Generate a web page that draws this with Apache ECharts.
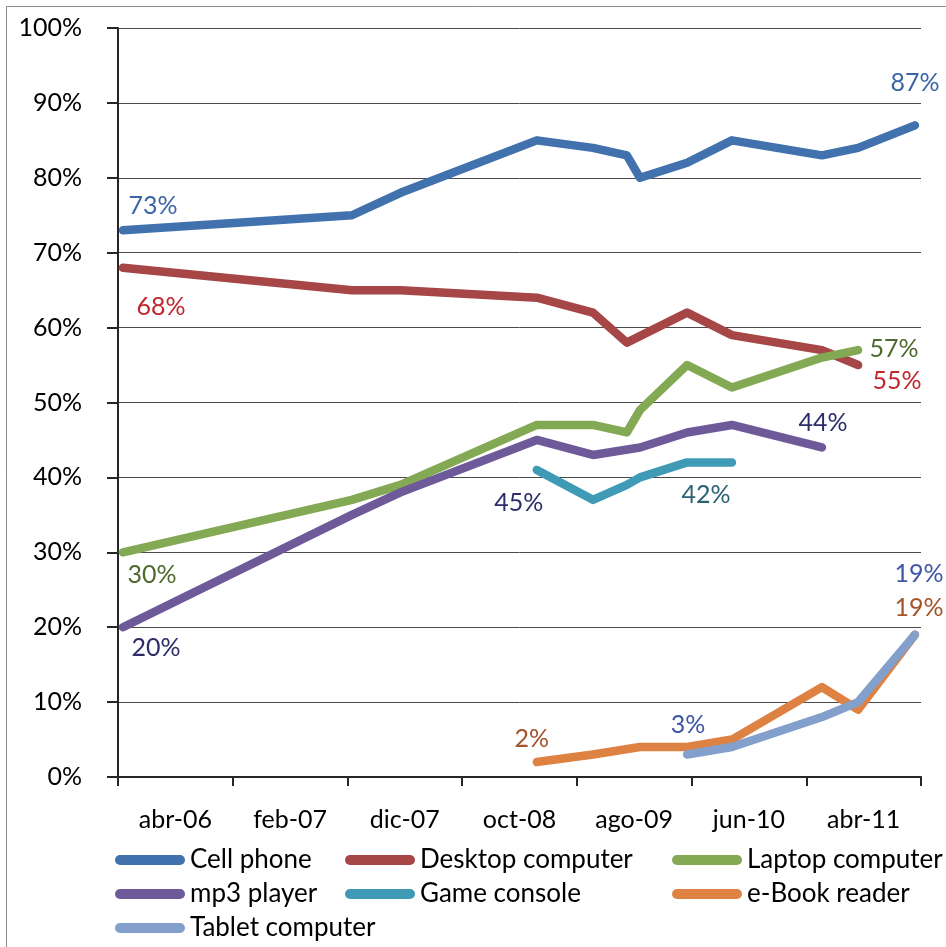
<!DOCTYPE html>
<html>
<head>
<meta charset="utf-8">
<title>Device ownership</title>
<script src="https://cdn.jsdelivr.net/npm/echarts@6/dist/echarts.min.js"></script>
<style>
  html, body { margin: 0; padding: 0; background: #fff; }
  #chart { width: 946px; height: 947px; }
</style>
</head>
<body>
<div id="chart"></div>
<script>
// Axis labels (one every ten months) and survey dates
const categories = ['abr-06', 'feb-07', 'dic-07', 'oct-08', 'ago-09', 'jun-10', 'abr-11'];
const surveyDates = ['2006-04-14', '2007-12-13', '2008-04-20', '2009-04-17', '2009-09-13', '2009-12-12',
                     '2010-01-16', '2010-05-21', '2010-09-17', '2011-05-14', '2011-08-18', '2012-01-16'];
const axisStart = '2006-04-01';
const axisEnd = '2012-02-01';
const yTicks = [0, 10, 20, 30, 40, 50, 60, 70, 80, 90, 100];

// Ownership (% of adults) at each survey date; null = not asked
const cellPhone = [73, 75, 78, 85, 84, 83, 80, 82, 85, 83, 84, 87];
const desktop   = [68, 65, 65, 64, 62, 58, null, 62, 59, 57, 55, null];
const laptop    = [30, 37, 39, 47, 47, 46, 49, 55, 52, 56, 57, null];
const mp3       = [20, 35, 38, 45, 43, null, 44, 46, 47, 44, null, null];
const gameConsole = [null, null, null, 41, 37, 39, 40, 42, 42, null, null, null];
const eBook     = [null, null, null, 2, 3, null, 4, 4, 5, 12, 9, 19];
const tablet    = [null, null, null, null, null, null, null, 3, 4, 8, 10, 19];

const DAY = 86400000;
const t0 = Date.parse(axisStart);
const dayIndex = s => (Date.parse(s) - t0) / DAY;
const totalDays = dayIndex(axisEnd);

const FONT = 'Lato';
const capsule = 'path://M5,0 L65,0 A5,5 0 0 1 65,10 L5,10 A5,5 0 0 1 5,0 Z';

function makeSeries(name, values, color, labelColor, labelSpots) {
  const spots = {};
  labelSpots.forEach(s => { spots[s.i] = s; });
  const data = [];
  values.forEach((v, i) => {
    if (v == null) return;
    const item = { value: [dayIndex(surveyDates[i]), v] };
    if (spots[i]) {
      item.label = { show: true, position: 'inside', offset: [spots[i].dx, spots[i].dy] };
    }
    data.push(item);
  });
  return {
    name: name,
    type: 'line',
    xAxisIndex: 1,
    data: data,
    color: color,
    symbol: 'circle',
    symbolSize: 1,
    showSymbol: true,
    itemStyle: { color: color },
    lineStyle: { color: color, width: 8.5, cap: 'round', join: 'round' },
    label: {
      show: false,
      color: labelColor,
      fontFamily: FONT,
      fontSize: 25,
      formatter: p => p.value[1] + '%'
    },
    emphasis: { disabled: true },
    z: 2
  };
}

const series = [
  makeSeries('Cell phone', cellPhone, '#4172AE', '#3A65A6', [{ i: 0, dx: 30, dy: -24 }, { i: 11, dx: 0, dy: -42 }]),
  makeSeries('Desktop computer', desktop, '#A64646', '#C0262E', [{ i: 0, dx: 38, dy: 39 }, { i: 10, dx: 39, dy: 16 }]),
  makeSeries('Laptop computer', laptop, '#83A955', '#4F6A2E', [{ i: 0, dx: 29, dy: 23 }, { i: 10, dx: 36, dy: -1 }]),
  makeSeries('mp3 player', mp3, '#6F5A99', '#2E2B6B', [{ i: 0, dx: 33, dy: 21 }, { i: 3, dx: -18, dy: 63 }, { i: 9, dx: 1, dy: -25 }]),
  makeSeries('Game console', gameConsole, '#3F9AB5', '#2B6272', [{ i: 8, dx: -26, dy: 33 }]),
  makeSeries('e-Book reader', eBook, '#DE8243', '#A3542B', [{ i: 3, dx: -5, dy: -23 }, { i: 11, dx: 4, dy: -27 }]),
  makeSeries('Tablet computer', tablet, '#83A0CC', '#3F57A6', [{ i: 7, dx: 1, dy: -30 }, { i: 11, dx: 4, dy: -61 }])
];

function legendColumn(left, names) {
  return {
    orient: 'vertical',
    left: left,
    top: 845,
    height: 100,
    padding: 0,
    itemWidth: 70,
    itemHeight: 10,
    itemGap: 4,
    icon: capsule,
    selectedMode: false,
    data: names,
    textStyle: { fontFamily: FONT, fontSize: 26, color: '#000', lineHeight: 30 }
  };
}

const chart = echarts.init(document.getElementById('chart'));
chart.setOption({
  animation: false,
  backgroundColor: '#fff',
  graphic: [{
    type: 'rect',
    shape: { x: 6.5, y: 6.5, width: 960, height: 960 },
    style: { fill: 'none', stroke: '#8c8c8c', lineWidth: 1 },
    silent: true
  }],
  grid: { left: 118, right: 25, top: 28, bottom: 170, containLabel: false },
  xAxis: [{
    type: 'category',
    data: categories,
    boundaryGap: true,
    position: 'bottom',
    axisLine: { show: true, lineStyle: { color: '#262626', width: 2 } },
    axisTick: { show: true, length: 9, lineStyle: { color: '#262626', width: 2 } },
    axisLabel: { fontFamily: FONT, fontSize: 25, color: '#000', margin: 30 },
    splitLine: { show: false }
  }, {
    type: 'value',
    min: 0,
    max: totalDays,
    show: false
  }],
  yAxis: {
    type: 'value',
    min: yTicks[0],
    max: yTicks[yTicks.length - 1],
    interval: yTicks[1] - yTicks[0],
    axisLine: { show: true, lineStyle: { color: '#262626', width: 2 } },
    axisTick: { show: true, length: 11, lineStyle: { color: '#262626', width: 2 } },
    axisLabel: { fontFamily: FONT, fontSize: 25, color: '#000', margin: 36, formatter: '{value}%' },
    splitLine: { show: true, lineStyle: { color: '#4a4a4a', width: 1 } }
  },
  legend: [
    legendColumn(115, ['Cell phone', 'mp3 player', 'Tablet computer']),
    legendColumn(345, ['Desktop computer', 'Game console']),
    legendColumn(672, ['Laptop computer', 'e-Book reader'])
  ],
  series: series
});
</script>
</body>
</html>
